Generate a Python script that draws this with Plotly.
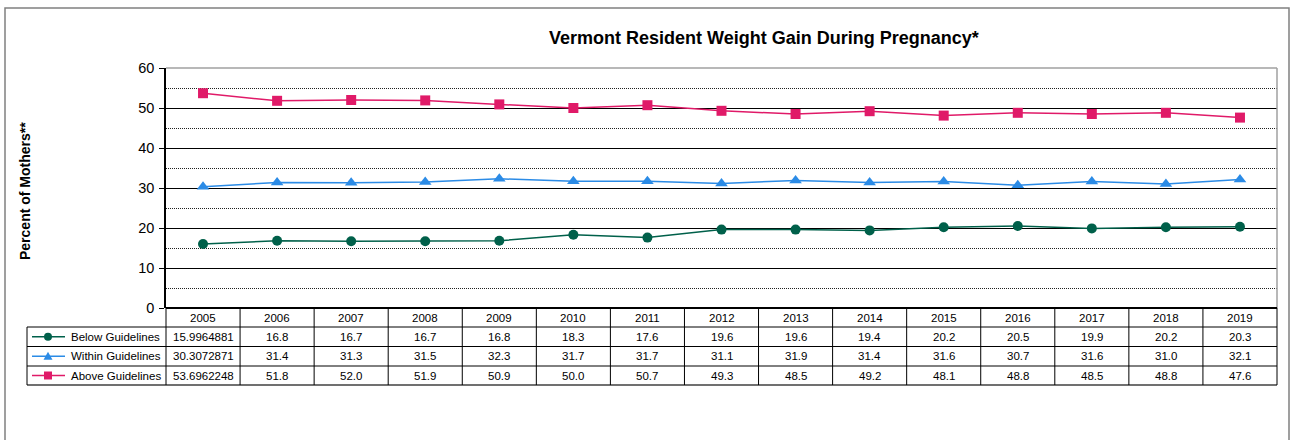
import plotly.graph_objects as go

years = ["2005", "2006", "2007", "2008", "2009", "2010", "2011", "2012",
         "2013", "2014", "2015", "2016", "2017", "2018", "2019"]
below = [15.9964881, 16.8, 16.7, 16.7, 16.8, 18.3, 17.6, 19.6, 19.6, 19.4, 20.2, 20.5, 19.9, 20.2, 20.3]
within = [30.3072871, 31.4, 31.3, 31.5, 32.3, 31.7, 31.7, 31.1, 31.9, 31.4, 31.6, 30.7, 31.6, 31.0, 32.1]
above = [53.6962248, 51.8, 52.0, 51.9, 50.9, 50.0, 50.7, 49.3, 48.5, 49.2, 48.1, 48.8, 48.5, 48.8, 47.6]
series_names = ["Below Guidelines", "Within Guidelines", "Above Guidelines"]
title_text = "Vermont Resident Weight Gain During Pregnancy*"
ytitle_text = "Percent of Mothers**"

W, H = 1291, 440
PL, PR, PT, PB = 166, 1277, 68, 308  # plot area in pixels
FONT = "Liberation Sans, Arial, sans-serif"
TFS = 11.5  # table font size

def fx(px):
    return (px - PL) / (PR - PL)

def fy(py):
    return (PB - py) / (PB - PT)

series = [
    (series_names[0], below, "#00604A", "circle", 10),
    (series_names[1], within, "#2B8BE6", "triangle-up", 11),
    (series_names[2], above, "#E01A68", "square", 10),
]

fig = go.Figure()
xs = list(range(len(years)))
for name, vals, col, sym, sz in series:
    fig.add_trace(go.Scatter(
        x=xs, y=vals, mode="lines+markers", name=name,
        line=dict(color=col, width=1.5),
        marker=dict(symbol=sym, size=sz, color=col),
        showlegend=False, cliponaxis=False,
    ))

shapes = []
annotations = []

def ann(x, y, text, size=TFS, xanchor="center", **kw):
    annotations.append(dict(x=x, y=y, xref="paper", yref="paper", text=text, showarrow=False,
                            xanchor=xanchor, yanchor="middle",
                            font=dict(family=FONT, size=size, color="black"), **kw))

# outer frame
shapes.append(dict(type="rect", xref="paper", yref="paper",
                   x0=fx(5), x1=fx(1289), y0=fy(8), y1=fy(446),
                   line=dict(color="#808080", width=1.5), layer="below"))
# plot area top/right border (gray)
shapes.append(dict(type="line", xref="paper", yref="paper", x0=0, x1=1, y0=1, y1=1,
                   line=dict(color="#A0A0A0", width=1.5)))
shapes.append(dict(type="line", xref="paper", yref="paper", x0=1, x1=1, y0=0, y1=1,
                   line=dict(color="#A0A0A0", width=1.5)))

# table geometry
n = len(years)
colw = 1.0 / n
row_y = [308, 327, 346.5, 366, 385]
leg_left = 27
shapes.append(dict(type="line", xref="paper", yref="paper", x0=0, x1=1,
                   y0=fy(row_y[0]), y1=fy(row_y[0]), line=dict(color="black", width=2)))
for i, ry in enumerate(row_y[1:]):
    shapes.append(dict(type="line", xref="paper", yref="paper", x0=fx(leg_left), x1=1,
                       y0=fy(ry), y1=fy(ry),
                       line=dict(color="black" if i < 3 else "#404040", width=1 if i < 3 else 1.5)))
for k in range(n + 1):
    shapes.append(dict(type="line", xref="paper", yref="paper", x0=k * colw, x1=k * colw,
                       y0=fy(row_y[0]), y1=fy(row_y[-1]), line=dict(color="black", width=1)))
shapes.append(dict(type="line", xref="paper", yref="paper", x0=fx(leg_left), x1=fx(leg_left),
                   y0=fy(row_y[1]), y1=fy(row_y[-1]), line=dict(color="black", width=1)))

for k, yr in enumerate(years):
    ann((k + 0.5) * colw, fy((row_y[0] + row_y[1]) / 2), yr)

def fmt(v):
    return f"{v:.1f}" if round(v, 1) == v else f"{v}"

KX = 48  # legend key marker center (px)
for r, (name, vals, col, sym, sz) in enumerate(series):
    cyp = (row_y[r + 1] + row_y[r + 2]) / 2
    cy = fy(cyp)
    shapes.append(dict(type="line", xref="paper", yref="paper", x0=fx(32), x1=fx(65),
                       y0=cy, y1=cy, line=dict(color=col, width=1.5)))
    h = 4
    if sym == "circle":
        shapes.append(dict(type="circle", xref="paper", yref="paper", x0=fx(KX - h), x1=fx(KX + h),
                           y0=fy(cyp + h), y1=fy(cyp - h), fillcolor=col, line=dict(color=col, width=0)))
    elif sym == "square":
        shapes.append(dict(type="rect", xref="paper", yref="paper", x0=fx(KX - h), x1=fx(KX + h),
                           y0=fy(cyp + h), y1=fy(cyp - h), fillcolor=col, line=dict(color=col, width=0)))
    else:
        path = "M {:.5f} {:.5f} L {:.5f} {:.5f} L {:.5f} {:.5f} Z".format(
            fx(KX - 4.5), fy(cyp + 3.5), fx(KX + 4.5), fy(cyp + 3.5), fx(KX), fy(cyp - 4.5))
        shapes.append(dict(type="path", xref="paper", yref="paper", path=path,
                           fillcolor=col, line=dict(color=col, width=0)))
    ann(fx(69), cy, name, xanchor="left")
    for k, v in enumerate(vals):
        ann((k + 0.5) * colw, cy, fmt(v))

ann(fx(764), fy(38), "<b>" + title_text + "</b>", size=18)
ann(fx(25), fy(191), "<b>" + ytitle_text + "</b>", size=14, textangle=-90)

fig.update_layout(
    width=W, height=H,
    margin=dict(l=PL, r=W - PR, t=PT, b=H - PB, pad=0),
    paper_bgcolor="white", plot_bgcolor="white",
    xaxis=dict(range=[-0.5, n - 0.5], showticklabels=False, showgrid=False, zeroline=False,
               ticks="", showline=False, fixedrange=True),
    yaxis=dict(range=[0, 60], dtick=10, tick0=0, showgrid=True, gridcolor="black", gridwidth=1,
               zeroline=False, showline=True, linecolor="black", linewidth=1.5,
               ticks="outside", ticklen=5, tickcolor="black", ticklabelstandoff=2,
               tickfont=dict(family=FONT, size=14.5, color="black"),
               minor=dict(dtick=5, tick0=0, showgrid=True, gridcolor="#202020", griddash="1px,1px",
                          gridwidth=1, ticks=""),
               fixedrange=True),
    shapes=shapes, annotations=annotations,
)

fig.write_html("out.html", config={"displayModeBar": False},
               post_script="document.body.style.margin='0';document.body.style.overflow='hidden';")
